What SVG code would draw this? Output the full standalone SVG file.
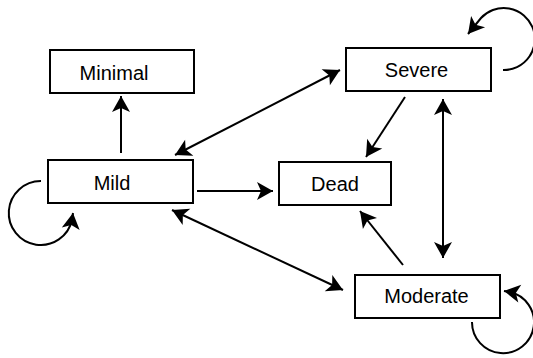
<svg xmlns="http://www.w3.org/2000/svg" width="533" height="358" viewBox="0 0 533 358">
<defs>
<style>
.box{fill:#fff;stroke:#000;stroke-width:2}
.lbl{font-family:"Liberation Sans",Arial,sans-serif;font-size:20px;fill:#000;text-anchor:middle}
.c{fill:none;stroke:#000;stroke-width:2}
.a{marker-end:url(#ah)}
.b{marker-start:url(#ah);marker-end:url(#ah)}
</style>
<marker id="ah" viewBox="-17 -10 18 20" markerWidth="18" markerHeight="20" refX="0" refY="0" markerUnits="userSpaceOnUse" orient="auto-start-reverse">
<path d="M0,0 L-16,-9 L-12,0 L-16,9 Z" fill="#000"/>
</marker>
</defs>
<rect width="533" height="358" fill="#fff"/>
<g id="connectors">
<path class="c a" d="M121,153 L121,96"/>
<path class="c b" d="M175,155 L340,70"/>
<path class="c a" d="M405,97 L366,157"/>
<path class="c b" d="M443,99 L443,258"/>
<path class="c a" d="M197,191 L273,191"/>
<path class="c a" d="M403,265 L360,211"/>
<path class="c b" d="M172,210 L343,290"/>
<path class="c a" d="M41,181 A32,32 0 1,0 72,220 L73,213"/>
<path class="c a" d="M503,70 A31,31 0 1,0 481,18 L468,34"/>
<path class="c a" d="M472,322 A31,31 0 1,0 510,292 L504,291"/>
</g>
<g id="minimal"><rect class="box" x="50" y="50" width="144" height="43"/><text class="lbl" x="114" y="80">Minimal</text></g>
<g id="mild"><rect class="box" x="48" y="160" width="145" height="43"/><text class="lbl" x="112" y="190">Mild</text></g>
<g id="severe"><rect class="box" x="346" y="48" width="145" height="43"/><text class="lbl" x="416.5" y="77">Severe</text></g>
<g id="dead"><rect class="box" x="279" y="162" width="112" height="43"/><text class="lbl" x="335" y="191">Dead</text></g>
<g id="moderate"><rect class="box" x="355" y="275" width="145" height="43"/><text class="lbl" x="426.5" y="303">Moderate</text></g>
</svg>
